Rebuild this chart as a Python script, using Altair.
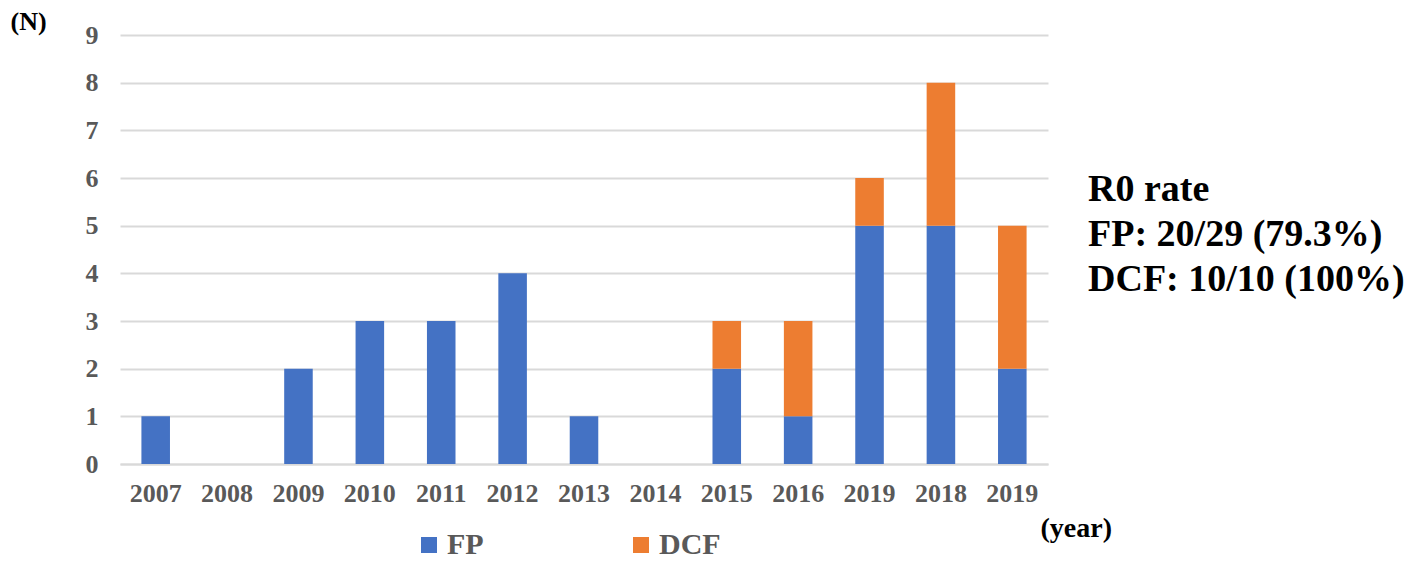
import altair as alt
import pandas as pd

# ---- data ----
keys = ["2007", "2008", "2009", "2010", "2011", "2012", "2013", "2014",
        "2015", "2016", "2019a", "2018", "2019b"]
fp_values = [1, 0, 2, 3, 3, 4, 1, 0, 2, 1, 5, 5, 2]
dcf_values = [0, 0, 0, 0, 0, 0, 0, 0, 1, 2, 1, 3, 3]
series = ["FP", "DCF"]
colors = ["#4472C4", "#ED7D31"]
note_lines = ["R0 rate", "FP: 20/29 (79.3%)", "DCF: 10/10 (100%)"]

rows = []
for k, f, d in zip(keys, fp_values, dcf_values):
    rows.append({"year": k, "series": "FP", "ord": 0, "n": f})
    rows.append({"year": k, "series": "DCF", "ord": 1, "n": d})
df = pd.DataFrame(rows)
df = df[df["n"] > 0]

note_df = pd.DataFrame({"text": ["\n".join(note_lines)]})

FONT = "Liberation Serif"
GRAY = "#595959"

bars = alt.Chart(df).mark_bar().encode(
    x=alt.X("year:N", sort=keys,
            scale=alt.Scale(domain=keys, paddingInner=0.6, paddingOuter=0.3),
            axis=alt.Axis(title="(year)", labelAngle=0,
                          labelExpr="slice(datum.label, 0, 4)",
                          labelFont=FONT, labelFontSize=26, labelFontWeight="bold",
                          labelColor=GRAY, labelPadding=16, ticks=False,
                          domain=True, domainColor="#d9d9d9", domainWidth=2,
                          titleFont=FONT, titleFontSize=28, titleFontWeight="bold",
                          titleColor="black", titleAngle=0, titleAlign="left",
                          titleBaseline="middle", titleX=920, titleY=64)),
    y=alt.Y("n:Q", stack="zero",
            scale=alt.Scale(domain=[0, 9], nice=False),
            axis=alt.Axis(title="(N)", values=list(range(10)),
                          labelFont=FONT, labelFontSize=26, labelFontWeight="bold",
                          labelColor=GRAY, labelPadding=22, ticks=False,
                          domain=False, grid=True, gridColor="#d9d9d9", gridWidth=2,
                          titleFont=FONT, titleFontSize=26, titleFontWeight="bold",
                          titleColor="black", titleAngle=0, titleAlign="left",
                          titleBaseline="middle", titleX=-110, titleY=-14)),
    color=alt.Color("series:N",
                    scale=alt.Scale(domain=series, range=colors),
                    sort=series,
                    legend=alt.Legend(title=None, orient="none", direction="horizontal",
                                      legendX=294, legendY=495, padding=0,
                                      symbolType="square", symbolSize=256,
                                      symbolStrokeWidth=0, symbolOpacity=1,
                                      labelFont=FONT, labelFontSize=30,
                                      labelFontWeight="bold", labelColor=GRAY,
                                      labelOffset=3, columnPadding=142)),
    order=alt.Order("ord:Q", sort="ascending"),
)

note = alt.Chart(note_df).mark_text(
    align="left", baseline="middle", font=FONT, fontSize=38,
    fontWeight="bold", color="black", lineBreak="\n", lineHeight=45,
).encode(
    text="text:N",
    x=alt.value(968),
    y=alt.value(155),
)

chart = alt.layer(bars, note).properties(
    width=928, height=429,
    autosize=alt.AutoSizeParams(type="none"),
    padding={"left": 112, "top": 27, "right": 360, "bottom": 98},
).configure_view(stroke=None)

chart.save("out.html", embed_options={"renderer": "svg", "actions": False})
